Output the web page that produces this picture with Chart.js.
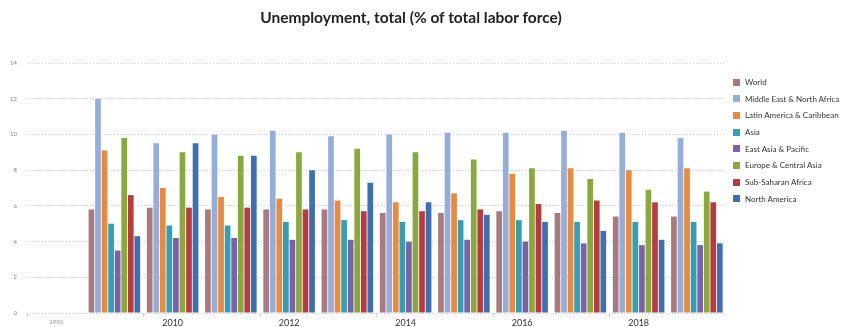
<!DOCTYPE html>
<html>
<head>
<meta charset="utf-8">
<script src="https://cdn.jsdelivr.net/npm/chart.js@4/dist/chart.umd.min.js"></script>
<style>
  html, body { margin: 0; padding: 0; background: #fff; }
  #wrap { position: relative; width: 844px; height: 327px; }
  #title { position: absolute; left: 411px; top: 8px; transform: translateX(-50%); white-space: nowrap;
           font-family: Lato, sans-serif; font-weight: bold; font-size: 15.5px; color: #222; }
  #legend { position: absolute; left: 733px; top: 76px; font-family: Lato, 'Open Sans', sans-serif; font-size: 8px; color: #333; }
  #legend div { height: 16.7px; line-height: 12px; white-space: nowrap; }
  #legend span { display: inline-block; width: 7px; height: 7px; margin-right: 5px; vertical-align: -0.5px; }
</style>
</head>
<body>
<div id="wrap">
  <canvas id="chart" width="844" height="327"></canvas>
  <div id="title">Unemployment, total (% of total labor force)</div>
  <div id="legend"></div>
</div>
<script>
// ===== Data =====
const years = ['1990', '2009', '2010', '2011', '2012', '2013', '2014', '2015', '2016', '2017', '2018', '2019'];
const yTicks = [0, 2, 4, 6, 8, 10, 12, 14];

const world   = [null, 5.8, 5.9, 5.8, 5.8, 5.8, 5.6, 5.6, 5.7, 5.6, 5.4, 5.4];
const mena    = [null, 12.0, 9.5, 10.0, 10.2, 9.9, 10.0, 10.1, 10.1, 10.2, 10.1, 9.8];
const latam   = [null, 9.1, 7.0, 6.5, 6.4, 6.3, 6.2, 6.7, 7.8, 8.1, 8.0, 8.1];
const asia    = [null, 5.0, 4.9, 4.9, 5.1, 5.2, 5.1, 5.2, 5.2, 5.1, 5.1, 5.1];
const eap     = [null, 3.5, 4.2, 4.2, 4.1, 4.1, 4.0, 4.1, 4.0, 3.9, 3.8, 3.8];
const eca     = [null, 9.8, 9.0, 8.8, 9.0, 9.2, 9.0, 8.6, 8.1, 7.5, 6.9, 6.8];
const ssa     = [null, 6.6, 5.9, 5.9, 5.8, 5.7, 5.7, 5.8, 6.1, 6.3, 6.2, 6.2];
const namer   = [null, 4.3, 9.5, 8.8, 8.0, 7.3, 6.2, 5.5, 5.1, 4.6, 4.1, 3.9];

const seriesNames = ['World', 'Middle East & North Africa', 'Latin America & Caribbean', 'Asia',
    'East Asia & Pacific', 'Europe & Central Asia', 'Sub-Saharan Africa', 'North America'];
const seriesData = [world, mena, latam, asia, eap, eca, ssa, namer];
const seriesColors = ['#a97b7c', '#94aedb', '#ea8a3a', '#2fa0b8', '#7d61a8', '#88aa3c', '#b93b3f', '#3c70b0'];

// ===== Helpers =====
const showLabel = (i) => i === 0 || (i % 2 === 0);

// ===== Legend =====
const legendEl = document.getElementById('legend');
seriesNames.forEach((name, i) => {
    const row = document.createElement('div');
    const box = document.createElement('span');
    box.style.background = seriesColors[i];
    row.appendChild(box);
    row.appendChild(document.createTextNode(name));
    legendEl.appendChild(row);
});

// ===== Chart =====
const ctx = document.getElementById('chart').getContext('2d');
new Chart(ctx, {
    type: 'bar',
    data: {
        labels: years,
        datasets: seriesNames.map((name, i) => ({
            label: name,
            data: seriesData[i],
            backgroundColor: seriesColors[i],
            borderWidth: 0,
            categoryPercentage: 0.9,
            barPercentage: 0.87
        }))
    },
    options: {
        responsive: false,
        animation: false,
        layout: { padding: { left: 0, right: 118, top: 63, bottom: 0 } },
        plugins: {
            legend: { display: false },
            tooltip: { enabled: false }
        },
        scales: {
            x: {
                grid: {
                    drawOnChartArea: false,
                    drawTicks: true,
                    tickLength: 4,
                    color: (c) => showLabel(c.index) ? '#c5d3e6' : 'rgba(0,0,0,0)'
                },
                border: { display: false },
                ticks: {
                    autoSkip: false,
                    maxRotation: 0,
                    padding: 1,
                    callback: (v, i) => showLabel(i) ? years[i] : '',
                    color: (c) => c.index === 0 ? '#999' : '#333',
                    font: (c) => c.index === 0
                        ? { family: 'Lato', size: 6 }
                        : { family: 'Lato', size: 9 }
                },
                afterFit: (scale) => { scale.height = 14; }
            },
            y: {
                min: 0,
                max: 14,
                afterBuildTicks: (scale) => { scale.ticks = yTicks.map(v => ({ value: v })); },
                grid: { color: '#cfcfcf', drawTicks: false, lineWidth: 1 },
                border: { display: false, dash: [1, 2] },
                ticks: {
                    padding: 10,
                    color: '#888',
                    font: { family: 'Lato', size: 6 }
                },
                afterFit: (scale) => { scale.width = 27; }
            }
        }
    }
});
</script>
</body>
</html>
